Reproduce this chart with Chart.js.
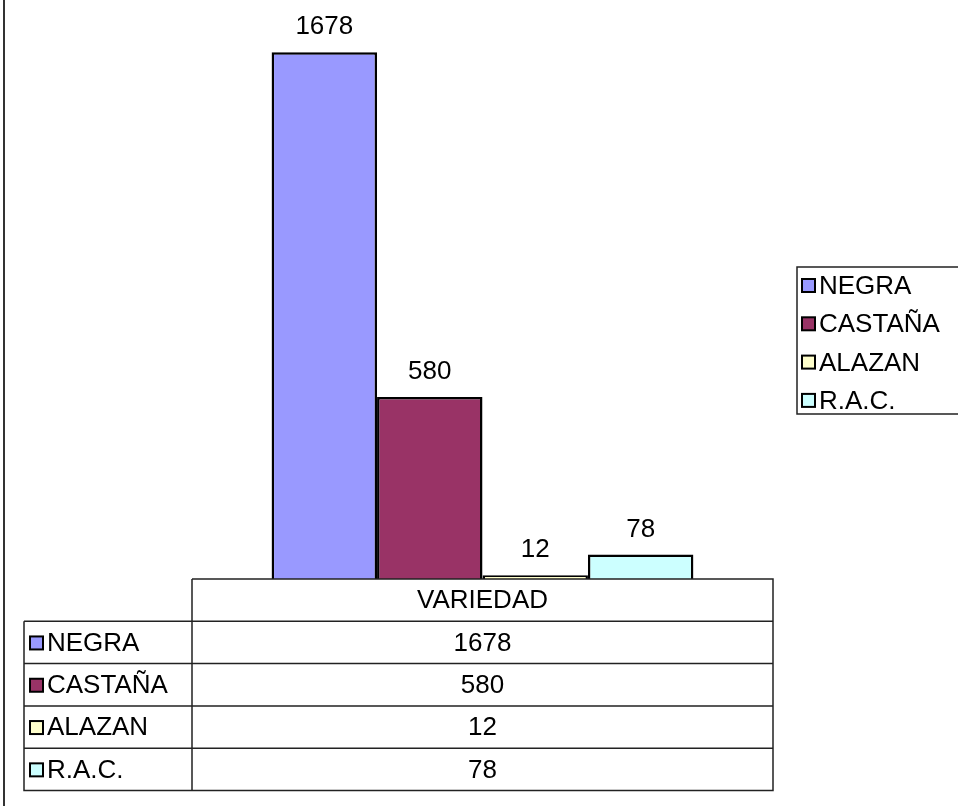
<!DOCTYPE html>
<html>
<head>
<meta charset="utf-8">
<title>VARIEDAD</title>
<script src="https://cdn.jsdelivr.net/npm/chart.js@4.4.1/dist/chart.umd.min.js"></script>
<style>
  html, body { margin: 0; padding: 0; background: #fff; }
  canvas { display: block; }
</style>
</head>
<body>
<canvas id="chartVariedad" width="958" height="806"></canvas>
<script>
const categories = ['VARIEDAD'];
const seriesNames = ['NEGRA', 'CASTAÑA', 'ALAZAN', 'R.A.C.'];
const seriesValues = [1678, 580, 12, 78];
const seriesColors = ['#9999ff', '#993366', '#ffffcc', '#ccffff'];

const FONT = "26px 'Liberation Sans', Arial, sans-serif";
const ROW_H = 42.3;

function drawKey(ctx, x, y, color) {
  ctx.fillStyle = color;
  ctx.fillRect(x, y, 13, 13);
  ctx.lineWidth = 2;
  ctx.strokeStyle = '#000';
  ctx.strokeRect(x, y, 13, 13);
}

// value labels above each bar
const barLabels = {
  id: 'barLabels',
  afterDatasetsDraw(chart) {
    const ctx = chart.ctx;
    ctx.save();
    ctx.font = FONT;
    ctx.fillStyle = '#000';
    ctx.textAlign = 'center';
    ctx.textBaseline = 'alphabetic';
    chart.data.datasets.forEach((ds, i) => {
      chart.getDatasetMeta(i).data.forEach((bar, j) => {
        ctx.fillText(String(ds.data[j]), bar.x, bar.y - 18);
      });
    });
    ctx.restore();
  }
};

// data table under the plot
const dataTable = {
  id: 'dataTable',
  afterDraw(chart) {
    const ctx = chart.ctx;
    const area = chart.chartArea;
    const left = area.left;
    const right = area.right;
    const top = area.bottom;
    const keyLeft = 24;
    const n = chart.data.datasets.length;
    const bottom = top + ROW_H * (n + 1);

    ctx.save();
    ctx.strokeStyle = '#222';
    ctx.lineWidth = 1.5;

    ctx.beginPath();
    ctx.moveTo(left, top);
    ctx.lineTo(right, top);
    ctx.lineTo(right, bottom);
    ctx.lineTo(keyLeft, bottom);
    ctx.lineTo(keyLeft, top + ROW_H);
    ctx.moveTo(left, top);
    ctx.lineTo(left, bottom);
    for (let r = 1; r <= n; r++) {
      ctx.moveTo(keyLeft, top + ROW_H * r);
      ctx.lineTo(right, top + ROW_H * r);
    }
    ctx.stroke();

    ctx.font = FONT;
    ctx.fillStyle = '#000';
    ctx.textBaseline = 'middle';
    ctx.textAlign = 'center';
    const mid = (left + right) / 2;
    ctx.fillText(chart.data.labels[0], mid, top + ROW_H / 2 + 1);

    chart.data.datasets.forEach((ds, i) => {
      const cy = top + ROW_H * (i + 1) + ROW_H / 2 + 1;
      drawKey(ctx, 30, cy - 7, ds.backgroundColor);
      ctx.fillStyle = '#000';
      ctx.textAlign = 'left';
      ctx.fillText(ds.label, 47, cy);
      ctx.textAlign = 'center';
      ctx.fillText(String(ds.data[0]), mid, cy);
    });
    ctx.restore();
  }
};

// legend box on the right, cut by the page edge like the original
const sideLegend = {
  id: 'sideLegend',
  afterDraw(chart) {
    const ctx = chart.ctx;
    const boxLeft = 797;
    const boxTop = 267;
    const boxBottom = 414;
    const step = 38.3;

    ctx.save();
    ctx.strokeStyle = '#222';
    ctx.lineWidth = 1.5;
    ctx.beginPath();
    ctx.moveTo(chart.width + 2, boxTop);
    ctx.lineTo(boxLeft, boxTop);
    ctx.lineTo(boxLeft, boxBottom);
    ctx.lineTo(chart.width + 2, boxBottom);
    ctx.stroke();

    ctx.font = FONT;
    ctx.textBaseline = 'middle';
    ctx.textAlign = 'left';
    chart.data.datasets.forEach((ds, i) => {
      const cy = 286 + step * i;
      drawKey(ctx, 802, cy - 7, ds.backgroundColor);
      ctx.fillStyle = '#000';
      ctx.fillText(ds.label, 819, cy + 1);
    });

    // left frame line of the chart object
    ctx.strokeStyle = '#333';
    ctx.lineWidth = 2;
    ctx.beginPath();
    ctx.moveTo(4, 0);
    ctx.lineTo(4, chart.height);
    ctx.stroke();
    ctx.restore();
  }
};

const datasets = seriesNames.map((name, i) => ({
  label: name,
  data: [seriesValues[i]],
  backgroundColor: seriesColors[i],
  borderColor: '#000',
  borderWidth: 2.5,
  barPercentage: 1,
  categoryPercentage: 0.726
}));

new Chart(document.getElementById('chartVariedad'), {
  type: 'bar',
  data: { labels: categories, datasets },
  options: {
    responsive: false,
    animation: false,
    layout: { padding: { left: 192, right: 185, top: 14, bottom: 227 } },
    plugins: {
      legend: { display: false },
      tooltip: { enabled: false }
    },
    scales: {
      x: { display: false },
      y: { display: false, min: 0, max: 1800 }
    }
  },
  plugins: [barLabels, dataTable, sideLegend]
});
</script>
</body>
</html>
